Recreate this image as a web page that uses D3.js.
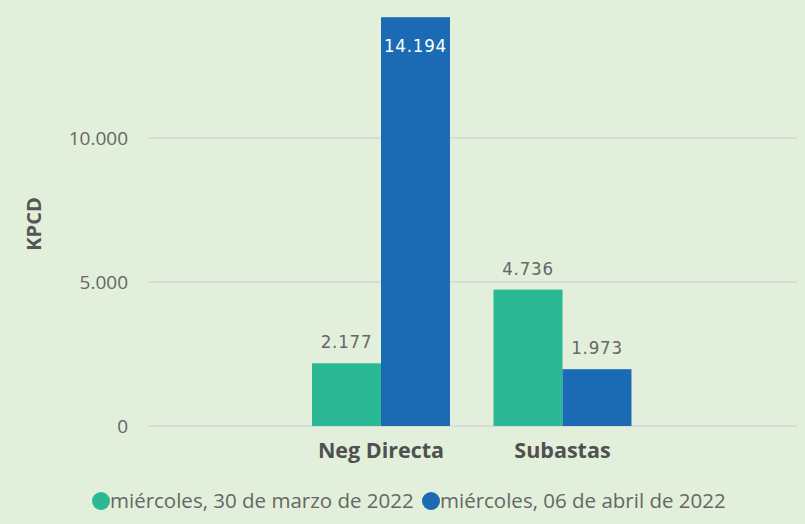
<!DOCTYPE html>
<html lang="es">
<head>
    <meta charset="UTF-8">
    <title>KPCD</title>
    <script src="https://d3js.org/d3.v7.min.js"></script>
    <style>
        body { margin: 0; background: #e2efda; }
    </style>
</head>
<body>
    <script>
        var w = 805;
        var h = 524;

        // data
        var categories = ["Neg Directa", "Subastas"];
        var seriesNames = ["miércoles, 30 de marzo de 2022", "miércoles, 06 de abril de 2022"];
        var marzo = [2177, 4736];
        var abril = [14194, 1973];
        var yTicks = [0, 5000, 10000];
        var colors = ["#2bb894", "#1a6bb4"];

        var fmt = function (v) {
            return d3.format(",")(v).replace(/,/g, ".");
        };

        var svg = d3.select("body").append("svg")
            .attr("width", w)
            .attr("height", h);

        svg.append("rect").attr("width", w).attr("height", h).attr("fill", "#e2efda");

        var yScale = d3.scaleLinear()
            .domain([0, 10000])
            .range([426, 138]);

        var xScale = d3.scaleBand()
            .domain(categories)
            .range([290.25, 653.25])
            .paddingInner(0.24)
            .paddingOuter(0.12);

        var xSub = d3.scaleBand()
            .domain([0, 1])
            .range([0, xScale.bandwidth()]);

        // gridlines
        svg.selectAll("line.grid")
            .data(yTicks)
            .enter()
            .append("line")
            .attr("class", "grid")
            .attr("x1", 148)
            .attr("x2", 797)
            .attr("y1", function (d) { return yScale(d); })
            .attr("y2", function (d) { return yScale(d); })
            .attr("stroke", "#d3d6dc")
            .attr("stroke-width", 1.5);

        // y tick labels
        svg.selectAll("text.ytick")
            .data(yTicks)
            .enter()
            .append("text")
            .attr("class", "ytick")
            .attr("x", 128)
            .attr("y", function (d) { return yScale(d) + 7; })
            .attr("text-anchor", "end")
            .attr("font-family", "'Open Sans', sans-serif")
            .attr("font-size", "19px")
            .attr("fill", "#666")
            .text(fmt);

        // y title
        svg.append("text")
            .attr("transform", "translate(41,224) rotate(-90)")
            .attr("text-anchor", "middle")
            .attr("font-family", "'Open Sans', sans-serif")
            .attr("font-weight", "bold")
            .attr("font-size", "20px")
            .attr("fill", "#555")
            .text("KPCD");

        var series = [marzo, abril];
        var rows = [];
        series.forEach(function (s, si) {
            s.forEach(function (v, ci) {
                rows.push({ s: si, c: categories[ci], v: v });
            });
        });

        svg.selectAll("rect.bar")
            .data(rows)
            .enter()
            .append("rect")
            .attr("class", "bar")
            .attr("x", function (d) { return xScale(d.c) + xSub(d.s); })
            .attr("width", xSub.bandwidth())
            .attr("y", function (d) { return yScale(d.v); })
            .attr("height", function (d) { return yScale(0) - yScale(d.v); })
            .attr("fill", function (d) { return colors[d.s]; });

        // value labels
        svg.selectAll("text.val")
            .data(rows)
            .enter()
            .append("text")
            .attr("class", "val")
            .attr("x", function (d) { return xScale(d.c) + xSub(d.s) + xSub.bandwidth() / 2; })
            .attr("y", function (d) {
                return d.v > 12000 ? yScale(d.v) + 35 : yScale(d.v) - 15;
            })
            .attr("text-anchor", "middle")
            .attr("font-family", "'DejaVu Sans Condensed', 'DejaVu Sans', sans-serif")
            .attr("font-size", "18.5px")
            .attr("letter-spacing", "0.8px")
            .attr("fill", function (d) { return d.v > 12000 ? "#fff" : "#666"; })
            .text(function (d) { return fmt(d.v); });

        // category labels
        svg.selectAll("text.cat")
            .data(categories)
            .enter()
            .append("text")
            .attr("class", "cat")
            .attr("x", function (d) { return xScale(d) + xScale.bandwidth() / 2; })
            .attr("y", 458)
            .attr("text-anchor", "middle")
            .attr("font-family", "'Open Sans', sans-serif")
            .attr("font-weight", "bold")
            .attr("font-size", "21.5px")
            .attr("fill", "#505050")
            .text(function (d) { return d; });

        // legend
        var legendX = [101, 431];
        var lg = svg.selectAll("g.legend")
            .data(seriesNames)
            .enter()
            .append("g")
            .attr("class", "legend")
            .attr("transform", function (d, i) { return "translate(" + legendX[i] + ",501)"; });

        lg.append("circle")
            .attr("r", 9)
            .attr("cx", 0)
            .attr("fill", function (d, i) { return colors[i]; });

        lg.append("text")
            .attr("x", 9)
            .attr("y", 7)
            .attr("font-family", "'Open Sans', sans-serif")
            .attr("font-size", "20.5px")
            .attr("fill", "#666")
            .text(function (d) { return d; });
    </script>
</body>
</html>
